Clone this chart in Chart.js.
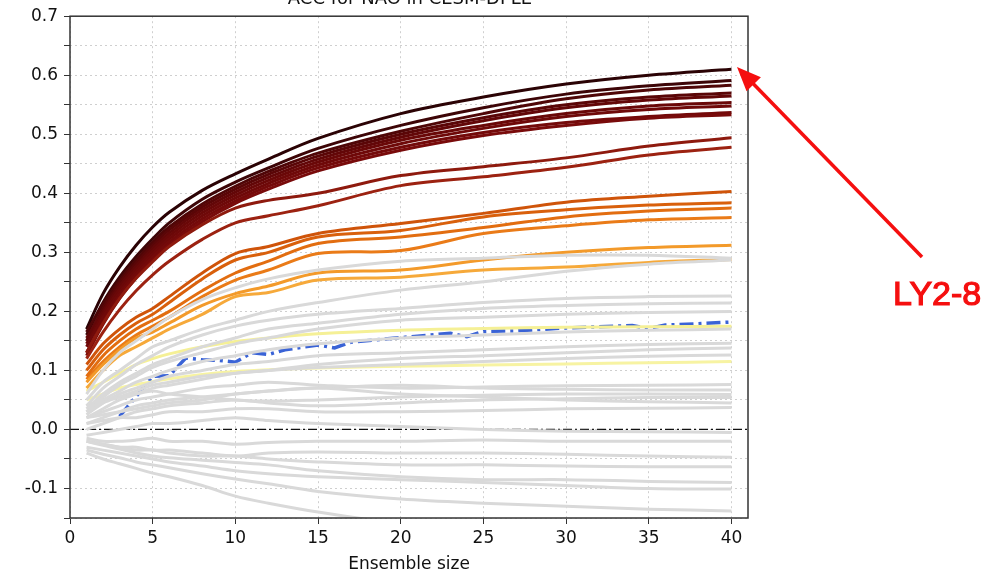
<!DOCTYPE html>
<html>
<head>
<meta charset="utf-8">
<script src="https://cdn.jsdelivr.net/npm/chart.js@4"></script>
<style>
  body { margin: 0; background: #fff; }
  #chart-con { width: 1008px; height: 576px; position: relative; }
</style>
</head>
<body>
<div id="chart-con"><canvas id="my-chart-acc"></canvas></div>
<script>
// ensemble sizes sampled along each curve
const ensembleSize = [1, 2, 3, 4, 5, 6, 8, 10, 12, 15, 20, 25, 30, 35, 40];

// LY2-8 style dark red runs (top band)
const darkRedRuns = [
    [0.17, 0.23, 0.275, 0.312, 0.343, 0.368, 0.405, 0.433, 0.458, 0.493, 0.535, 0.563, 0.585, 0.60, 0.61],
    [0.16, 0.215, 0.258, 0.293, 0.323, 0.35, 0.39, 0.419, 0.443, 0.476, 0.515, 0.545, 0.568, 0.582, 0.591],
    [0.165, 0.212, 0.252, 0.287, 0.317, 0.343, 0.382, 0.412, 0.437, 0.468, 0.505, 0.535, 0.56, 0.575, 0.583],
    [0.15, 0.205, 0.248, 0.282, 0.312, 0.338, 0.377, 0.407, 0.432, 0.463, 0.50, 0.528, 0.55, 0.563, 0.570],
    [0.155, 0.20, 0.243, 0.277, 0.307, 0.333, 0.372, 0.402, 0.427, 0.458, 0.495, 0.523, 0.545, 0.558, 0.565],
    [0.145, 0.195, 0.238, 0.272, 0.302, 0.328, 0.367, 0.397, 0.422, 0.453, 0.49, 0.515, 0.535, 0.548, 0.554],
    [0.14, 0.19, 0.232, 0.267, 0.297, 0.323, 0.362, 0.392, 0.417, 0.448, 0.484, 0.51, 0.53, 0.542, 0.548],
    [0.13, 0.183, 0.227, 0.262, 0.292, 0.318, 0.357, 0.387, 0.412, 0.443, 0.478, 0.503, 0.52, 0.53, 0.537],
    [0.125, 0.178, 0.222, 0.257, 0.287, 0.313, 0.352, 0.383, 0.407, 0.438, 0.473, 0.498, 0.515, 0.527, 0.533]
];
const mediumRedRuns = [
    [0.13, 0.18, 0.222, 0.256, 0.284, 0.31, 0.347, 0.375, 0.388, 0.40, 0.43, 0.445, 0.46, 0.48, 0.494],
    [0.12, 0.165, 0.203, 0.235, 0.262, 0.285, 0.322, 0.35, 0.362, 0.379, 0.413, 0.428, 0.444, 0.465, 0.478]
];
const orangeRuns = [
    [0.11, 0.145, 0.17, 0.19, 0.205, 0.225, 0.265, 0.298, 0.31, 0.332, 0.349, 0.366, 0.385, 0.395, 0.403],
    [0.10, 0.135, 0.16, 0.18, 0.195, 0.215, 0.255, 0.287, 0.30, 0.326, 0.337, 0.36, 0.372, 0.38, 0.384],
    [0.09, 0.125, 0.15, 0.17, 0.185, 0.20, 0.235, 0.265, 0.285, 0.315, 0.326, 0.342, 0.36, 0.37, 0.375],
    [0.085, 0.115, 0.14, 0.16, 0.175, 0.19, 0.225, 0.253, 0.27, 0.298, 0.303, 0.332, 0.345, 0.355, 0.359]
];
const lightOrangeRuns = [
    [0.08, 0.11, 0.135, 0.155, 0.165, 0.18, 0.21, 0.23, 0.243, 0.265, 0.27, 0.287, 0.30, 0.308, 0.312],
    [0.07, 0.10, 0.125, 0.14, 0.155, 0.17, 0.195, 0.225, 0.232, 0.253, 0.258, 0.27, 0.275, 0.283, 0.288]
];
const yellowRuns = [
    [0.065, 0.08, 0.095, 0.11, 0.12, 0.128, 0.14, 0.149, 0.155, 0.162, 0.168, 0.171, 0.173, 0.174, 0.175],
    [0.05, 0.06, 0.07, 0.076, 0.081, 0.086, 0.093, 0.098, 0.101, 0.104, 0.107, 0.109, 0.111, 0.113, 0.115]
];
const grayRuns = [
    [0.06, 0.10, 0.13, 0.15, 0.17, 0.19, 0.22, 0.24, 0.255, 0.27, 0.285, 0.29, 0.295, 0.295, 0.29],
    [0.05, 0.08, 0.10, 0.12, 0.14, 0.15, 0.17, 0.185, 0.20, 0.215, 0.236, 0.25, 0.268, 0.28, 0.287],
    [0.04, 0.07, 0.09, 0.11, 0.125, 0.14, 0.16, 0.175, 0.185, 0.195, 0.205, 0.215, 0.222, 0.225, 0.226],
    [0.035, 0.06, 0.08, 0.095, 0.11, 0.12, 0.14, 0.155, 0.17, 0.18, 0.195, 0.205, 0.21, 0.213, 0.214],
    [0.03, 0.055, 0.075, 0.09, 0.105, 0.115, 0.13, 0.145, 0.155, 0.17, 0.185, 0.19, 0.195, 0.198, 0.20],
    [0.03, 0.05, 0.065, 0.08, 0.09, 0.10, 0.115, 0.125, 0.135, 0.145, 0.155, 0.16, 0.165, 0.168, 0.17],
    [0.025, 0.045, 0.06, 0.07, 0.08, 0.09, 0.10, 0.11, 0.115, 0.125, 0.13, 0.135, 0.14, 0.144, 0.146],
    [0.02, 0.035, 0.05, 0.06, 0.07, 0.075, 0.085, 0.095, 0.10, 0.11, 0.12, 0.125, 0.13, 0.135, 0.138],
    [0.03, 0.045, 0.055, 0.065, 0.075, 0.08, 0.09, 0.095, 0.10, 0.105, 0.11, 0.115, 0.12, 0.124, 0.126],
    [0.02, 0.03, 0.04, 0.05, 0.055, 0.06, 0.07, 0.075, 0.08, 0.075, 0.07, 0.072, 0.074, 0.075, 0.076],
    [0.01, 0.02, 0.03, 0.04, 0.045, 0.05, 0.055, 0.06, 0.065, 0.07, 0.075, 0.07, 0.068, 0.067, 0.067],
    [0.04, 0.05, 0.055, 0.06, 0.065, 0.06, 0.055, 0.05, 0.048, 0.05, 0.055, 0.058, 0.06, 0.06, 0.059],
    [0.0, 0.01, 0.02, 0.03, 0.035, 0.04, 0.045, 0.05, 0.045, 0.04, 0.045, 0.05, 0.052, 0.054, 0.054],
    [0.01, 0.015, 0.02, 0.02, 0.025, 0.03, 0.03, 0.035, 0.035, 0.03, 0.03, 0.032, 0.035, 0.036, 0.037],
    [0.02, 0.025, 0.03, 0.035, 0.04, 0.045, 0.05, 0.06, 0.065, 0.07, 0.06, 0.055, 0.05, 0.047, 0.045],
    [-0.01, -0.005, 0.0, 0.005, 0.01, 0.01, 0.015, 0.02, 0.015, 0.01, 0.005, 0.0, -0.003, -0.004, -0.005],
    [-0.015, -0.02, -0.02, -0.018, -0.015, -0.02, -0.02, -0.025, -0.022, -0.02, -0.02, -0.018, -0.02, -0.02, -0.02],
    [-0.02, -0.025, -0.03, -0.03, -0.035, -0.035, -0.04, -0.045, -0.04, -0.038, -0.04, -0.04, -0.042, -0.045, -0.047],
    [-0.02, -0.025, -0.03, -0.035, -0.035, -0.04, -0.045, -0.045, -0.05, -0.055, -0.06, -0.06, -0.062, -0.063, -0.063],
    [-0.02, -0.027, -0.033, -0.04, -0.045, -0.048, -0.052, -0.056, -0.06, -0.07, -0.08, -0.085, -0.085, -0.088, -0.09],
    [-0.03, -0.035, -0.04, -0.045, -0.05, -0.055, -0.062, -0.07, -0.075, -0.08, -0.085, -0.09, -0.095, -0.10, -0.101],
    [-0.035, -0.042, -0.048, -0.055, -0.06, -0.065, -0.075, -0.084, -0.092, -0.105, -0.118, -0.125, -0.13, -0.135, -0.138],
    [-0.04, -0.05, -0.058, -0.066, -0.074, -0.08, -0.095, -0.113, -0.125, -0.14, -0.16, -0.175, -0.19, -0.20, -0.21]
];

// observation-like blue dash-dot curve
const blueSize = [3, 5, 6, 7, 8, 9, 10, 11, 12, 13, 15, 16, 17, 19, 21, 23, 24, 25, 27, 30, 32, 34, 35, 36, 38, 40];
const blueAcc = [0.022, 0.09, 0.091, 0.121, 0.118, 0.117, 0.114, 0.13, 0.127, 0.135, 0.143, 0.138, 0.148, 0.153, 0.158, 0.163, 0.157, 0.166, 0.167, 0.172, 0.174, 0.176, 0.171, 0.177, 0.179, 0.182];

const zeroLineX = [0, 41];

const darkRedColors = ['#2b0305', '#3d0507', '#4f0607', '#5a0607', '#630708', '#6a0808', '#6f0909', '#740a0a', '#790b0b'];
const mediumRedColors = ['#8e1a0e', '#9c2211'];
const orangeColors = ['#cf540a', '#d9600c', '#e26d10', '#ea7b18'];
const lightOrangeColors = ['#f39a2a', '#f6a93a'];
const yellowColors = ['#f5f096', '#f7f3a2'];

function runSet(runs, colors, width){
    return runs.map((run, i) => ({
        data: run.map((v, j) => ({x: ensembleSize[j], y: v})),
        borderColor: colors[i % colors.length],
        borderWidth: width,
        pointRadius: 0,
        tension: 0.35,
        fill: false
    }));
}

const datasets = [];
datasets.push(...runSet(grayRuns, ['#d9d9d9'], 3));
datasets.push({
    data: zeroLineX.map(x => ({x: x, y: 0})),
    borderColor: '#111',
    borderWidth: 1.2,
    borderDash: [9, 3, 2, 3],
    pointRadius: 0
});
datasets.push(...runSet(yellowRuns, yellowColors, 3));
datasets.push(...runSet(lightOrangeRuns, lightOrangeColors, 3));
datasets.push(...runSet(orangeRuns, orangeColors, 3));
datasets.push(...runSet(mediumRedRuns, mediumRedColors, 3));
datasets.push(...runSet(darkRedRuns.slice().reverse(), darkRedColors.slice().reverse(), 3));
datasets.push({
    data: blueSize.map((x, i) => ({x: x, y: blueAcc[i]})),
    borderColor: '#3a63d6',
    borderWidth: 3.5,
    borderDash: [14, 5, 3, 5],
    pointRadius: 0,
    tension: 0
});

// frame, cut-off title and red annotation
const decorPlugin = {
    id: 'decor',
    afterDraw(chart){
        const ctx = chart.ctx;
        const a = chart.chartArea;
        ctx.save();
        ctx.strokeStyle = '#333';
        ctx.lineWidth = 1.5;
        ctx.strokeRect(a.left, a.top, a.right - a.left, a.bottom - a.top);

        ctx.fillStyle = '#111';
        ctx.font = '18px "DejaVu Sans"';
        ctx.textAlign = 'center';
        ctx.textBaseline = 'alphabetic';
        ctx.fillText('ACC for NAO in CESM-DPLE', 410, 4);

        // arrow
        const x0 = 922, y0 = 257, x1 = 737, y1 = 67;
        const ang = Math.atan2(y1 - y0, x1 - x0);
        ctx.strokeStyle = '#f50f0f';
        ctx.fillStyle = '#f50f0f';
        ctx.lineWidth = 3.5;
        ctx.beginPath();
        ctx.moveTo(x0, y0);
        ctx.lineTo(x1 - 16 * Math.cos(ang), y1 - 16 * Math.sin(ang));
        ctx.stroke();
        ctx.beginPath();
        ctx.moveTo(x1, y1);
        ctx.lineTo(x1 - 24 * Math.cos(ang) + 10 * Math.sin(ang), y1 - 24 * Math.sin(ang) - 10 * Math.cos(ang));
        ctx.lineTo(x1 - 24 * Math.cos(ang) - 10 * Math.sin(ang), y1 - 24 * Math.sin(ang) + 10 * Math.cos(ang));
        ctx.closePath();
        ctx.fill();

        ctx.font = '34px "Liberation Sans"';
        ctx.textAlign = 'left';
        ctx.textBaseline = 'middle';
        ctx.lineWidth = 1.2;
        ctx.fillText('LY2-8', 893, 296);
        ctx.strokeText('LY2-8', 893, 296);
        ctx.restore();
    }
};

Chart.defaults.font.family = 'DejaVu Sans';
Chart.defaults.color = '#111';

const config = {
    type: 'line',
    data: { datasets },
    options: {
        responsive: true,
        maintainAspectRatio: false,
        animation: false,
        layout: { padding: { top: 15, right: 260, left: 0, bottom: 0 } },
        plugins: {
            legend: { display: false },
            tooltip: { enabled: false }
        },
        scales: {
            x: {
                type: 'linear',
                min: 0,
                max: 41,
                z: 1,
                afterFit(scale){ scale.height = 58; },
                ticks: {
                    stepSize: 5,
                    includeBounds: false,
                    padding: 4,
                    font: { size: 17 },
                    maxRotation: 0
                },
                grid: {
                    color: '#cfcfcf',
                    tickColor: '#333',
                    tickBorderDash: [],
                    tickLength: 6
                },
                border: { display: false, dash: [2, 3] },
                title: {
                    display: true,
                    text: 'Ensemble size',
                    font: { size: 17 },
                    padding: { top: 0, bottom: 1 }
                }
            },
            y: {
                min: -0.15,
                max: 0.7,
                z: 1,
                afterFit(scale){ scale.width = 70; },
                ticks: {
                    stepSize: 0.05,
                    padding: 6,
                    font: { size: 17 },
                    callback: function(value){
                        const k = Math.round(value * 100);
                        return k % 10 === 0 ? (k / 100).toFixed(1) : '';
                    }
                },
                grid: {
                    color: '#cfcfcf',
                    tickColor: '#333',
                    tickBorderDash: [],
                    tickLength: 6
                },
                border: { display: false, dash: [2, 3] }
            }
        }
    },
    plugins: [decorPlugin]
};

new Chart(document.getElementById('my-chart-acc').getContext('2d'), config);
</script>
</body>
</html>
